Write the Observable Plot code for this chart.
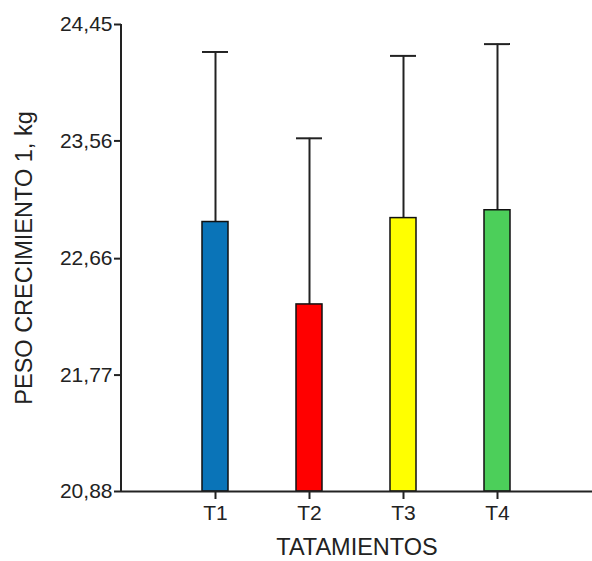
<!DOCTYPE html>
<html><head><meta charset="utf-8">
<script src="https://cdn.jsdelivr.net/npm/d3@7"></script>
<script src="https://cdn.jsdelivr.net/npm/@observablehq/plot@0.6"></script>
<style>body{margin:0;background:#fff}</style>
</head><body><div id="chart"></div>
<script>
const treatments = ["T1", "T2", "T3", "T4"];
const means = [22.94, 22.31, 22.97, 23.03];
const upper = [24.24, 23.58, 24.21, 24.30];
const colors = ["#0a74b8", "#ff0000", "#ffff00", "#4ccf5a"];
const yTicks = [20.88, 21.77, 22.66, 23.56, 24.45];
const yTitle = "PESO CRECIMIENTO 1, kg";
const xTitle = "TATAMIENTOS";

const data = treatments.map((t, i) => ({t, mean: means[i], up: upper[i]}));
const fmt = v => v.toFixed(2).replace(".", ",");
const font = "'Liberation Sans', Arial, sans-serif";

const yAxisLine = (index, scales, values, dims) => {
  const l = d3.create("svg:line")
    .attr("x1", dims.marginLeft).attr("x2", dims.marginLeft)
    .attr("y1", dims.marginTop).attr("y2", dims.height - dims.marginBottom)
    .attr("stroke", "#222").attr("stroke-width", 2);
  return l.node();
};

const chart = Plot.plot({
  width: 592, height: 561,
  marginLeft: 121, marginTop: 24, marginBottom: 70, marginRight: 0,
  style: {fontFamily: font, background: "white", color: "#222", overflow: "visible"},
  x: {domain: treatments, paddingInner: 0.72, paddingOuter: 0.86, label: null},
  y: {domain: [yTicks[0], yTicks[yTicks.length - 1]], label: null},
  color: {domain: treatments, range: colors},
  marks: [
    Plot.ruleX(data, {x: "t", y1: "mean", y2: "up", stroke: "#222", strokeWidth: 2}),
    Plot.tickY(data, {x: "t", y: "up", stroke: "#222", strokeWidth: 2}),
    Plot.barY(data, {x: "t", y1: yTicks[0], y2: "mean", fill: "t", stroke: "#111", strokeWidth: 1.5}),
    Plot.ruleY([yTicks[0]], {stroke: "#222", strokeWidth: 2}),
    yAxisLine,
    Plot.axisY({ticks: yTicks, tickFormat: fmt, tickSize: 7, tickPadding: 2, fontSize: 21, strokeWidth: 2, label: null}),
    Plot.axisX({tickSize: 8, tickPadding: 6, fontSize: 21, strokeWidth: 2, label: null}),
    Plot.text([yTitle], {frameAnchor: "left", rotate: -90, dx: -97, textAnchor: "middle", lineAnchor: "middle", fontSize: 23.5, fill: "#222"}),
    Plot.text([xTitle], {frameAnchor: "bottom", dy: 56, textAnchor: "middle", lineAnchor: "middle", fontSize: 23.5, fill: "#222"})
  ]
});
document.getElementById("chart").append(chart);
</script>
</body></html>
